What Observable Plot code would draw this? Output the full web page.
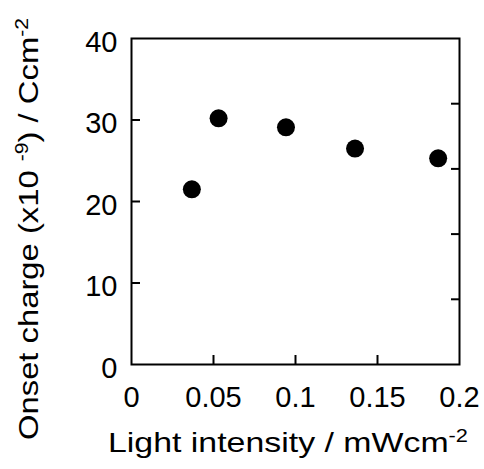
<!DOCTYPE html>
<html><head><meta charset="utf-8">
<script src="https://cdn.jsdelivr.net/npm/d3@7"></script>
<script src="https://cdn.jsdelivr.net/npm/@observablehq/plot@0.6"></script>
<style>body{margin:0;background:#fff;} #chart svg{display:block;}</style>
</head><body><div id="chart"></div>
<script>
const intensity = [0.0368, 0.0531, 0.0942, 0.1363, 0.187];
const charge = [21.5, 30.2, 29.1, 26.5, 25.3];
const xTicks = [0, 0.05, 0.1, 0.15, 0.2];
const xTickLabels = ["0", "0.05", "0.1", "0.15", "0.2"];
const yTicks = [0, 10, 20, 30, 40];
const yTickLabels = ["0", "10", "20", "30", "40"];
const yRightTicks = [8, 16, 24, 32];
const xTitleParts = ["Light intensity / mWcm", "-2"];
const yTitleParts = ["Onset charge (x10 ", "-9", ") / Ccm", "-2"];

const data = intensity.map((x, i) => ({x, y: charge[i]}));
const xLab = new Map(xTicks.map((t, i) => [t, xTickLabels[i]]));
const yLab = new Map(yTicks.map((t, i) => [t, yTickLabels[i]]));
const font = "'Liberation Sans', Arial, sans-serif";

const plot = Plot.plot({
  width: 484, height: 469,
  marginLeft: 131, marginRight: 25, marginTop: 38, marginBottom: 105,
  style: {fontFamily: font, background: "#fff", color: "#000"},
  x: {domain: [0, 0.2]},
  y: {domain: [0, 40]},
  marks: [
    Plot.frame({strokeWidth: 2}),
    Plot.axisX(xTicks, {tickSize: 0, tickPadding: 22, fontSize: 29, tickFormat: d => xLab.get(d), label: null}),
    Plot.axisX(xTicks.slice(1, -1), {tickSize: -9, strokeWidth: 2, fill: "none", label: null}),
    Plot.axisY(yTicks, {tickSize: 0, tickPadding: 14, dy: 4, fontSize: 29, tickFormat: d => yLab.get(d), label: null}),
    Plot.axisY(yTicks.slice(1, -1), {tickSize: -9, strokeWidth: 2, fill: "none", label: null}),
    Plot.axisY(yRightTicks, {anchor: "right", tickSize: -9, strokeWidth: 2, fill: "none", label: null}),
    Plot.dot(data, {x: "x", y: "y", r: 9, fill: "black"})
  ]
});
document.getElementById("chart").appendChild(plot);

const svg = d3.select(plot);
// x title
const xt = svg.append("text")
  .attr("x", 108).attr("y", 452).attr("text-anchor", "start")
  .attr("font-family", font).attr("font-size", 28).attr("fill", "#000")
  .attr("textLength", 360).attr("lengthAdjust", "spacingAndGlyphs");
xt.append("tspan").text(xTitleParts[0]);
xt.append("tspan").attr("dy", -10).attr("font-size", 18).text(xTitleParts[1]);

// y title
const yt = svg.append("text")
  .attr("transform", "translate(38,440) rotate(-90)").attr("text-anchor", "start")
  .attr("font-family", font).attr("font-size", 28).attr("fill", "#000")
  .attr("textLength", 422).attr("lengthAdjust", "spacingAndGlyphs");
yt.append("tspan").text(yTitleParts[0]);
yt.append("tspan").attr("dy", -10).attr("font-size", 18).text(yTitleParts[1]);
yt.append("tspan").attr("dy", 10).text(yTitleParts[2]);
yt.append("tspan").attr("dy", -10).attr("font-size", 18).text(yTitleParts[3]);
</script>
</body></html>
